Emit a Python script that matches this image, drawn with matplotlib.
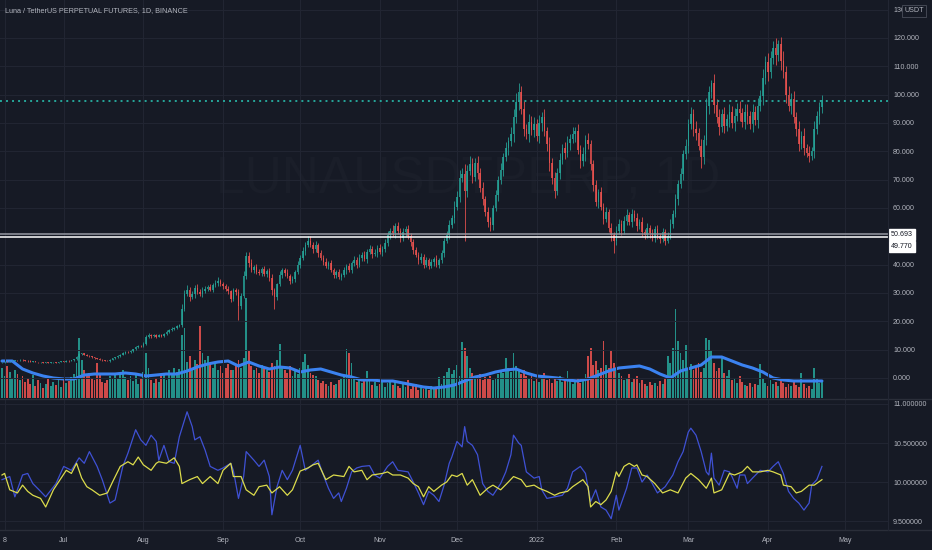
import numpy as np
import pandas as pd
import matplotlib
matplotlib.use("Agg")
import matplotlib.pyplot as plt
from matplotlib.lines import Line2D
from matplotlib.ticker import FormatStrFormatter

plt.rcParams["font.family"] = ["Liberation Sans", "DejaVu Sans"]

# ---- data (daily bars from 2021-06-07) ----
start_date = "2021-06-07"
first_open = 5.5
close = [
    5.6, 5.8, 5.7, 6.0, 6.1, 6.3, 6.2, 6.4, 6.3, 6.1,
    6.0, 5.8, 5.9, 5.6, 5.5, 5.6, 5.4, 5.5, 5.3, 5.5,
    5.6, 5.4, 5.7, 5.9, 5.8, 6.1, 6.0, 6.3, 6.6, 7.4,
    8.4, 8.7, 8.2, 7.9, 7.6, 7.3, 7.0, 6.8, 6.5, 6.3,
    6.1, 6.0, 6.4, 6.9, 7.3, 7.8, 8.2, 8.8, 9.2, 9.0,
    9.6, 10.2, 10.8, 11.4, 11.2, 12.1, 14.6, 15.2, 14.7, 15.0,
    14.6, 15.1, 14.8, 15.6, 16.3, 17.0, 17.4, 17.8, 18.3, 18.6,
    24.5, 29.8, 31.2, 28.6, 29.5, 31.8, 30.4, 29.8, 30.8, 31.5,
    32.0, 31.2, 32.8, 33.5, 34.2, 33.0, 32.4, 31.5, 30.6, 28.0,
    31.0, 30.2, 25.5, 29.0, 36.0, 43.0, 40.5, 38.2, 39.0, 37.5,
    37.0, 38.5, 36.8, 37.8, 35.2, 31.0, 28.5, 33.0, 36.5, 38.0,
    37.2, 36.0, 34.2, 35.0, 37.5, 40.0, 42.5, 44.8, 47.0, 48.5,
    47.0, 45.5, 46.8, 44.0, 42.5, 41.0, 39.5, 40.5, 38.0, 36.5,
    37.5, 35.8, 36.5, 38.0, 39.5, 38.2, 40.5, 41.8, 40.0, 42.5,
    43.5, 42.0, 44.5, 45.5, 43.8, 44.2, 46.0, 44.5, 45.5, 47.5,
    50.5, 52.0, 51.0, 53.5, 52.0, 49.5, 51.5, 52.5, 50.0, 48.0,
    45.0, 43.5, 41.5, 42.8, 40.0, 41.5, 39.5, 40.8, 42.0, 40.0,
    41.5, 44.0, 48.5, 50.5, 54.0, 56.5, 60.5, 64.0, 70.5, 72.0,
    66.0, 73.0, 75.5, 71.0, 76.0, 72.5, 67.0, 63.0, 58.5, 55.0,
    54.0, 60.0, 64.5, 70.0, 73.5, 78.0, 81.0, 83.5, 86.0, 92.0,
    97.5, 101.0, 95.0, 88.0, 86.0, 90.5, 87.5, 89.5, 85.5, 90.0,
    92.0, 87.0, 82.5, 76.0, 70.5, 66.0, 72.5, 77.0, 81.0, 79.5,
    83.0, 84.5, 86.0, 87.0, 80.5, 76.5, 79.0, 84.0, 82.5, 75.5,
    68.0, 62.0, 65.5, 60.5, 56.0, 58.5, 53.0, 50.5, 48.5, 52.0,
    54.5, 52.0, 55.5, 57.5, 55.0, 58.0, 56.5, 53.5, 55.0, 51.5,
    50.5, 53.0, 51.0, 49.5, 52.5, 50.0, 49.0, 51.5, 48.5, 50.0,
    54.5, 58.0, 63.0, 68.5, 72.0, 79.0, 82.0, 89.5, 93.0, 88.0,
    86.5, 82.0, 78.0, 84.0, 96.0, 101.0, 104.0, 96.5, 92.0, 88.5,
    93.0, 89.0, 91.5, 94.0, 90.0, 92.5, 95.0, 93.5, 90.5, 94.0,
    92.5, 89.5, 94.0, 91.0, 96.0, 99.5, 106.0, 111.5, 108.0, 113.0,
    116.5, 114.0, 118.0, 112.0, 108.0, 100.0, 96.0, 98.5, 92.0, 88.0,
    82.5, 85.5, 81.0, 79.5, 78.5, 80.0, 88.0, 92.5, 95.5, 98.0,
]
# wick lengths beyond the body, percent of price
wick_up = [
    3, 2, 4, 2, 3, 2, 3, 2, 2, 3,  2, 3, 2, 2, 3, 2, 2, 3, 2, 2,
    3, 2, 2, 3, 2, 3, 2, 2, 4, 6,  5, 3, 2, 2, 3, 2, 3, 2, 2, 3,
    2, 3, 2, 3, 2, 3, 2, 4, 3, 2,  3, 2, 3, 2, 3, 4, 3, 4, 2, 3,
    3, 2, 3, 2, 3, 2, 3, 2, 3, 2,  6, 4, 5, 3, 4, 3, 4, 3, 4, 3,
    3, 4, 2, 3, 4, 2, 3, 2, 3, 2,  3, 2, 4, 3, 5, 3, 3, 4, 2, 3,
    3, 2, 3, 2, 3, 4, 3, 2, 3, 2,  2, 3, 2, 3, 2, 3, 2, 3, 2, 3,
    3, 2, 3, 2, 3, 2, 3, 2, 3, 2,  2, 3, 2, 3, 2, 3, 2, 3, 2, 3,
    2, 3, 2, 3, 2, 3, 2, 3, 2, 3,  3, 2, 4, 2, 3, 2, 3, 2, 3, 2,
    2, 3, 2, 3, 2, 3, 2, 3, 2, 3,  2, 3, 2, 3, 3, 2, 3, 3, 4, 3,
    5, 3, 4, 3, 2, 3, 2, 3, 2, 3,  3, 2, 3, 2, 3, 2, 3, 2, 3, 3,
    3, 3, 2, 3, 2, 3, 2, 3, 2, 3,  2, 3, 2, 3, 2, 3, 2, 3, 2, 3,
    3, 2, 3, 2, 3, 2, 3, 2, 3, 2,  2, 3, 2, 3, 2, 3, 2, 3, 2, 3,
    3, 2, 3, 4, 2, 3, 2, 3, 2, 3,  2, 3, 2, 3, 2, 3, 2, 3, 2, 3,
    3, 2, 3, 2, 3, 2, 3, 2, 3, 2,  3, 2, 3, 2, 3, 2, 1, 3, 2, 3,
    2, 3, 2, 3, 2, 3, 2, 3, 2, 3,  3, 2, 3, 2, 3, 2, 3, 2, 3, 2,
    2, 3, 1, 2, 3, 2, 3, 2, 3, 2,  3, 2, 3, 2, 3, 2, 3, 2, 2, 2,
]
wick_dn = [
    2, 3, 2, 3, 2, 2, 3, 2, 3, 2,  3, 2, 3, 2, 2, 3, 2, 2, 3, 2,
    2, 3, 2, 2, 3, 2, 3, 2, 2, 3,  3, 2, 3, 2, 2, 3, 2, 3, 2, 3,
    3, 2, 3, 2, 3, 2, 3, 2, 3, 2,  2, 3, 2, 3, 2, 3, 4, 3, 3, 2,
    3, 2, 3, 2, 3, 2, 3, 2, 3, 2,  3, 4, 3, 5, 3, 4, 3, 3, 4, 3,
    3, 2, 3, 2, 3, 2, 3, 2, 3, 4,  3, 3, 20, 4, 3, 3, 3, 2, 3, 2,
    2, 3, 2, 3, 3, 5, 15, 3, 2, 3,  3, 2, 3, 2, 3, 2, 3, 2, 3, 2,
    2, 3, 2, 3, 2, 3, 2, 3, 2, 3,  3, 2, 3, 2, 3, 2, 3, 2, 3, 2,
    3, 2, 3, 2, 3, 2, 3, 2, 3, 2,  2, 3, 2, 3, 2, 3, 2, 3, 2, 3,
    3, 2, 3, 2, 3, 2, 3, 2, 3, 2,  3, 2, 3, 2, 3, 2, 3, 2, 3, 2,
    27, 3, 2, 3, 2, 3, 2, 3, 2, 3,  4, 3, 2, 3, 2, 3, 2, 3, 2, 3,
    2, 3, 2, 3, 2, 3, 2, 3, 2, 3,  3, 2, 3, 4, 3, 4, 2, 3, 2, 3,
    2, 3, 2, 3, 2, 3, 2, 3, 2, 3,  3, 2, 3, 2, 3, 2, 3, 4, 9, 3,
    2, 3, 2, 3, 2, 3, 2, 3, 2, 3,  3, 2, 3, 2, 3, 2, 3, 2, 3, 2,
    2, 3, 2, 3, 2, 3, 2, 3, 2, 3,  3, 2, 5, 3, 2, 3, 2, 3, 2, 3,
    2, 3, 2, 3, 2, 3, 2, 3, 2, 3,  3, 2, 3, 2, 3, 2, 3, 2, 3, 2,
    2, 3, 2, 3, 2, 3, 2, 3, 2, 3,  3, 2, 3, 2, 3, 2, 3, 2, 3, 2,
]
# volume, tens of millions USDT
volume = [
    30, 22, 32, 26, 20, 28, 24, 18, 22, 16,  20, 14, 23, 12, 18, 15, 10, 14, 19, 12,
    16, 13, 18, 11, 20, 15, 17, 21, 24, 35,  60, 38, 28, 22, 25, 20, 18, 35, 24, 16,
    15, 18, 22, 20, 25, 19, 24, 28, 21, 18,  22, 17, 25, 14, 20, 26, 45, 30, 18, 15,
    20, 16, 22, 25, 18, 28, 24, 30, 26, 29,  63, 70, 36, 42, 30, 38, 34, 72, 45, 38,
    42, 34, 30, 36, 28, 32, 25, 30, 34, 28,  28, 32, 38, 30, 40, 100, 47, 32, 28, 30,
    25, 33, 30, 28, 26, 35, 32, 38, 54, 30,  28, 25, 32, 22, 27, 24, 30, 36, 44, 33,
    25, 23, 22, 18, 15, 17, 14, 12, 16, 13,  14, 18, 20, 23, 49, 45, 35, 20, 16, 18,
    15, 20, 27, 18, 13, 16, 12, 14, 17, 11,  15, 18, 13, 16, 12, 10, 14, 11, 18, 9,
    12, 14, 8, 10, 9, 11, 8, 12, 10, 9,  21, 14, 22, 26, 30, 24, 28, 33, 22, 56,
    50, 42, 30, 25, 22, 20, 24, 18, 21, 19,  22, 18, 20, 24, 28, 25, 40, 30, 26, 45,
    32, 27, 24, 28, 22, 19, 25, 17, 20, 16,  22, 25, 18, 20, 15, 19, 17, 22, 16, 20,
    27, 18, 14, 17, 20, 15, 19, 24, 42, 50,  33, 37, 28, 30, 57, 33, 30, 47, 35, 28,
    25, 22, 18, 20, 24, 16, 19, 22, 15, 18,  14, 12, 16, 13, 15, 12, 17, 14, 20, 42,
    35, 50, 89, 57, 45, 38, 53, 30, 34, 28,  32, 35, 26, 30, 60, 58, 48, 35, 27, 30,
    40, 25, 22, 28, 18, 20, 15, 22, 16, 13,  12, 15, 11, 14, 13, 34, 20, 15, 12, 18,
    14, 16, 12, 18, 15, 11, 14, 12, 16, 13,  11, 25, 14, 10, 12, 9, 30, 20, 15, 17,
]
vol_ma_bars = list(range(0, 320, 4)) + [319]
vol_ma = [
    37, 37, 29, 25, 22, 20, 19, 19, 23, 24, 24, 24, 25, 24, 22, 23, 24, 24, 27, 31,
    34, 36, 37, 32, 36, 32, 29, 31, 30, 26, 28, 29, 26, 23, 21, 18, 18, 17, 17, 15,
    13, 11, 10, 11, 13, 17, 21, 23, 26, 28, 29, 25, 22, 21, 20, 18, 17, 19, 23, 27,
    30, 31, 32, 29, 24, 20, 27, 30, 33, 41, 41, 37, 33, 30, 26, 20, 18, 17, 17, 17, 17,
]
blue_bars = [
    0, 3, 5, 8, 10, 12, 15, 17, 21, 24, 27, 30, 32, 34, 37, 39, 42, 44, 47, 49,
    52, 54, 56, 58, 60, 61, 63, 65, 67, 69, 72, 74, 75, 77, 79, 81, 84, 86, 89, 90,
    92, 94, 95, 98, 100, 102, 104, 105, 107, 109, 111, 113, 116, 118, 120, 123, 125, 127, 129, 131,
    132, 134, 136, 138, 140, 143, 145, 147, 150, 152, 154, 158, 160, 162, 164, 166, 168, 170, 172, 174,
    175, 177, 179, 180, 181, 183, 185, 187, 189, 191, 194, 196, 198, 199, 201, 202, 204, 207, 209, 210,
    212, 215, 218, 220, 222, 225, 227, 229, 231, 233, 235, 237, 239, 240, 243, 245, 247, 249, 251, 253,
    255, 258, 261, 263, 265, 267, 268, 270, 272, 274, 275, 276, 277, 279, 281, 283, 284, 286, 287, 289,
    290, 292, 295, 298, 300, 302, 304, 306, 308, 310, 312, 314, 315, 317, 319,
]
blue_vals = [
    10.03, 10.07, 9.81, 10.09, 10.11, 9.98, 9.88, 9.81, 9.98, 10.2, 10.15, 10.31, 10.24, 10.39, 10.2, 10.03, 9.73, 9.77, 10.2, 10.37,
    10.67, 10.54, 10.47, 10.6, 10.52, 10.28, 10.47, 10.26, 10.24, 10.58, 10.9, 10.71, 10.54, 10.58, 10.41, 10.2, 10.15, 10.18, 10.24, 10.15,
    9.79, 10.07, 10.39, 10.28, 10.2, 10.28, 10.07, 9.58, 9.94, 10.15, 10.03, 10.15, 10.47, 10.15, 10.2, 10.28, 10.09, 9.92, 9.79, 9.86,
    9.75, 9.92, 10.13, 10.18, 10.2, 10.21, 10.09, 10.05, 10.2, 10.26, 10.15, 10.13, 10.0, 9.86, 9.71, 9.88, 9.83, 9.75, 9.96, 10.24,
    10.32, 10.52, 10.45, 10.71, 10.52, 10.47, 10.35, 9.98, 9.88, 9.83, 9.98, 10.13, 10.35, 10.6, 10.5, 10.47, 10.13, 10.05, 10.07, 9.9,
    9.79, 9.81, 9.83, 9.92, 10.13, 10.2, 10.11, 9.75, 9.9, 9.68, 9.64, 9.53, 9.83, 9.64, 9.92, 10.18, 10.18, 10.0, 10.09, 9.98,
    9.86, 9.94, 10.09, 10.26, 10.39, 10.64, 10.69, 10.6, 10.39, 10.13, 10.09, 10.37, 10.05, 9.96, 10.15, 10.13, 10.07, 9.92, 10.09, 10.09,
    9.98, 10.05, 10.15, 10.13, 10.2, 10.26, 10.11, 9.88, 9.79, 9.73, 9.64, 9.73, 9.96, 10.03, 10.2,
]
yellow_bars = [
    0, 1, 3, 6, 8, 10, 12, 15, 17, 20, 23, 25, 27, 29, 31, 33, 35, 38, 41, 43,
    46, 49, 51, 53, 55, 58, 60, 61, 64, 67, 69, 70, 73, 76, 78, 81, 84, 86, 89, 90,
    93, 95, 98, 100, 103, 105, 108, 111, 113, 116, 119, 121, 123, 126, 129, 133, 135, 137, 140, 142,
    144, 148, 150, 152, 155, 158, 160, 162, 164, 166, 168, 171, 173, 175, 177, 179, 181, 183, 186, 189,
    191, 194, 197, 199, 202, 204, 207, 209, 212, 215, 217, 220, 222, 226, 228, 229, 231, 233, 235, 237,
    239, 240, 242, 244, 246, 247, 249, 251, 254, 257, 260, 263, 266, 268, 271, 274, 276, 277, 280, 283,
    285, 288, 290, 292, 295, 298, 300, 303, 304, 307, 309, 311, 314, 316, 319,
]
yellow_vals = [
    10.09, 10.11, 9.9, 9.86, 9.96, 9.88, 9.83, 9.79, 9.68, 9.9, 10.05, 10.15, 10.11, 10.24, 10.05, 9.94, 9.9, 9.83, 9.86, 10.0,
    10.2, 10.26, 10.22, 10.32, 10.22, 10.15, 10.24, 10.26, 10.24, 10.31, 10.2, 9.98, 10.03, 10.07, 9.98, 10.07, 9.98, 10.15, 10.24, 10.07,
    10.07, 9.9, 9.83, 9.94, 9.96, 9.86, 9.94, 9.83, 9.9, 10.14, 10.18, 10.22, 10.24, 10.03, 10.09, 10.07, 10.2, 10.13, 10.15, 10.03,
    10.09, 10.11, 10.13, 10.09, 10.09, 10.05, 9.98, 9.94, 9.81, 9.94, 9.88, 9.96, 10.0, 10.09, 10.07, 10.11, 9.96, 10.03, 9.83, 9.92,
    9.96, 9.9, 10.0, 10.07, 10.03, 9.94, 9.96, 9.92, 9.88, 9.83, 9.86, 9.88, 9.94, 10.03, 9.94, 9.68, 9.75, 9.71, 9.77, 9.88,
    10.13, 10.07, 10.2, 10.24, 10.2, 10.22, 10.09, 10.07, 9.98, 9.86, 9.9, 9.86, 10.05, 10.11, 10.03, 9.92, 10.05, 9.86, 9.9, 10.11,
    10.09, 10.13, 10.2, 10.13, 10.13, 10.15, 10.13, 10.09, 9.96, 9.94, 9.86, 9.88, 9.96, 9.96, 10.03,
]
level_hi = 50.693
level_lo = 49.770
last_price = 97.8
price_ticks = [0, 10, 20, 30, 40, 60, 70, 80, 90, 100, 110, 120, 130]
osc_ticks = [9.5, 10.0, 10.5, 11.0]

# ---- styling ----
BG = "#161a25"
GRID = "#222633"
TXT = "#b2b5be"
UP = "#26a69a"
DN = "#ef5350"
SEP = "#2a2e39"
FS = 5.1

W, H = 932, 550
fig = plt.figure(figsize=(W / 100, H / 100), dpi=100)
fig.patch.set_facecolor(BG)

main_rect = [0, (H - 398) / H, 888 / W, 398 / H]
osc_rect = [0, 20 / H, 888 / W, (530 - 399) / H]
xlim = (-0.78, 344.7)

ax_vol = fig.add_axes(main_rect)
ax = fig.add_axes(main_rect)
osc = fig.add_axes(osc_rect)
for a in (ax_vol, ax, osc):
    a.set_facecolor("none")
    for s in a.spines.values():
        s.set_visible(False)
    a.set_xlim(*xlim)
ax_vol.axis("off")

# time ticks
t0 = pd.Timestamp(start_date)
months = pd.date_range("2021-07-01", "2022-05-01", freq="MS")
xt = [(pd.Timestamp("2021-06-08") - t0).days] + [(m - t0).days for m in months]
xl = ["8"] + ["2022" if m.month == 1 else m.strftime("%b") for m in months]

close = np.array(close)
n = len(close)
bars = np.arange(n)
opn = np.r_[first_open, close[:-1]]
is_up = close >= opn
cols = np.where(is_up, UP, DN)
hi = np.maximum(opn, close) * (1 + np.array(wick_up) / 100)
lo = np.minimum(opn, close) * (1 - np.array(wick_dn) / 100)

# volume + MA
ax_vol.set_ylim(0, 398)
ax_vol.bar(bars, volume, width=0.72, color=cols, alpha=0.85, linewidth=0)
ax_vol.plot(vol_ma_bars, vol_ma, color="#3b82f0", lw=2.2, solid_capstyle="round")

# price pane
ax.set_ylim(-7.06, 133.4)
ax.text(0.527, 69.9, "LUNAUSDTPERP, 1D", transform=ax.get_yaxis_transform(),
        fontsize=37, color="#1a1e29", ha="center", va="center", zorder=0)
ax.vlines(bars, lo, hi, colors=cols, lw=0.7, alpha=0.8, zorder=2)
ax.bar(bars, np.abs(close - opn), bottom=np.minimum(opn, close), width=0.6,
       color=cols, alpha=0.8, linewidth=0, zorder=2)
ax.axhline(level_hi, color="#9598a1", lw=1.1, zorder=3)
ax.axhline(level_lo, color="#ffffff", lw=1.1, zorder=3)
ax.axhline(last_price, color=UP, lw=1.4, linestyle=(0, (1, 2.1)), zorder=3)

ax.yaxis.tick_right()
ax.set_yticks(price_ticks)
ax.yaxis.set_major_formatter(FormatStrFormatter("%.3f"))
ax.set_xticks(xt)
ax.tick_params(axis="y", length=0, pad=3.6, labelsize=FS, labelcolor=TXT)
ax.tick_params(axis="x", length=0, labelbottom=False)
ax.grid(True, color=GRID, lw=0.7, zorder=0)
ax.set_axisbelow(True)

for val, dy in ((level_hi, 0), (level_lo, -7)):
    ax.annotate(f"{val:.3f}", xy=(1, val), xycoords=("axes fraction", "data"),
                xytext=(2.2, dy), textcoords="offset points", ha="left", va="center",
                fontsize=FS, color="#131722", annotation_clip=False,
                bbox=dict(boxstyle="square,pad=0.3", fc="white", ec="white"))

# oscillator pane
osc.set_ylim(9.385, 11.064)
osc.plot(blue_bars, blue_vals, color="#3f51d4", lw=0.9)
osc.plot(yellow_bars, yellow_vals, color="#dcdc4c", lw=0.9)
osc.yaxis.tick_right()
osc.set_yticks(osc_ticks)
osc.yaxis.set_major_formatter(FormatStrFormatter("%.6f"))
osc.set_xticks(xt)
osc.set_xticklabels(xl)
osc.tick_params(axis="y", length=0, pad=3.6, labelsize=FS, labelcolor=TXT)
osc.tick_params(axis="x", length=0, pad=5, labelsize=FS, labelcolor=TXT)
osc.grid(True, color=GRID, lw=0.7)
osc.set_axisbelow(True)

# separators and header
fig.add_artist(Line2D([0, 1], [1 - 398.5 / H] * 2, color=SEP, lw=1))
fig.add_artist(Line2D([0, 1], [20 / H] * 2, color=SEP, lw=1))
fig.add_artist(Line2D([888 / W] * 2, [20 / H, 1], color=GRID, lw=0.8))
fig.text(5 / W, 1 - 11 / H, "Luna / TetherUS PERPETUAL FUTURES, 1D, BINANCE",
         fontsize=5.2, color=TXT, va="center", ha="left")
fig.text(914 / W, 1 - 11 / H, "USDT", fontsize=FS, color=TXT, va="center", ha="center",
         bbox=dict(boxstyle="square,pad=0.35", fc=BG, ec="#4a4e5a", lw=0.6))

fig.savefig("out.png", dpi=100, facecolor=BG)
